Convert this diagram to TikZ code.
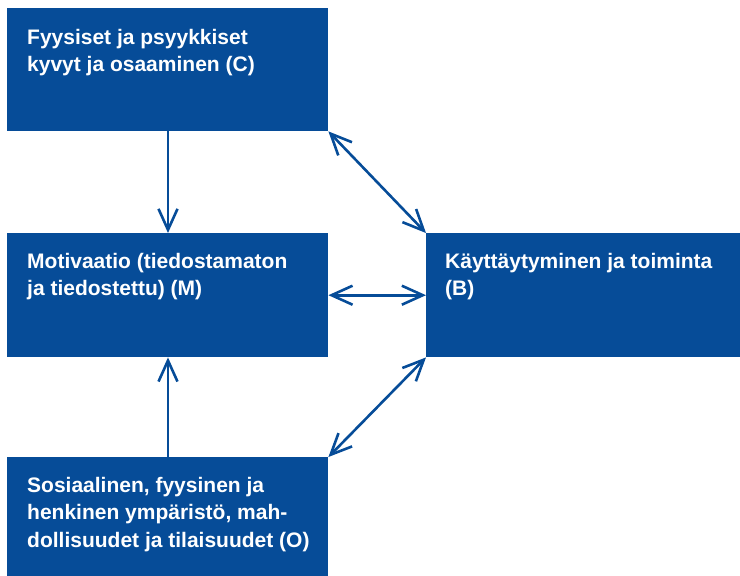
\documentclass[tikz,border=0pt]{standalone}
\usepackage{fontspec}
\setmainfont{Liberation Sans}
\usetikzlibrary{arrows.meta}
\definecolor{boxblue}{RGB}{6,76,152}
\tikzset{
  box/.style={fill=boxblue, draw=none, inner sep=0pt, anchor=north west},
  boxtext/.style={text=white, font=\fontsize{21}{27.5}\selectfont\bfseries, align=left, anchor=north west, inner sep=0pt},
  tip/.style={Straight Barb[length=21pt,width=19pt,line width=2.6pt]},
  conn/.style={draw=boxblue, line width=2.6pt, {Straight Barb[length=21pt,width=19pt,line width=2.6pt]}-{Straight Barb[length=21pt,width=19pt,line width=2.6pt]}},
  oneway/.style={draw=boxblue, line width=2.6pt, -{Straight Barb[length=21pt,width=19pt,line width=2.6pt]}}
}
\begin{document}
\begin{tikzpicture}[x=1pt,y=-1pt]
\useasboundingbox (0,0) rectangle (740,576);
\node[box, minimum width=321pt, minimum height=123pt] (C) at (7,8) {};
\node[box, minimum width=321pt, minimum height=124pt] (M) at (7,233) {};
\node[box, minimum width=314pt, minimum height=124pt] (B) at (426,233) {};
\node[box, minimum width=321pt, minimum height=119pt] (O) at (7,457) {};
\node[boxtext] (Ct) at (27,29) {Fyysiset ja psyykkiset\\kyvyt ja osaaminen (C)};
\node[boxtext] (Mt) at (27,253) {Motivaatio (tiedostamaton\\ja tiedostettu) (M)};
\node[boxtext] (Bt) at (445,253) {Käyttäytyminen ja toiminta\\(B)};
\node[boxtext] (Ot) at (27,477) {Sosiaalinen, fyysinen ja\\henkinen ympäristö, mah-\\dollisuudet ja tilaisuudet (O)};
\coordinate (Cs) at (C.south -| 168,0);
\coordinate (Mn) at (M.north -| 168,0);
\coordinate (Ms) at (M.south -| 168,0);
\coordinate (On) at (O.north -| 168,0);
\draw[oneway] (Cs) -- (Mn);
\draw[oneway] (On) -- (Ms);
\draw[conn] (M.east) -- (B.west);
\draw[conn] (C.south east) -- (B.north west);
\draw[conn] (B.south west) -- (O.north east);
\end{tikzpicture}
\end{document}
